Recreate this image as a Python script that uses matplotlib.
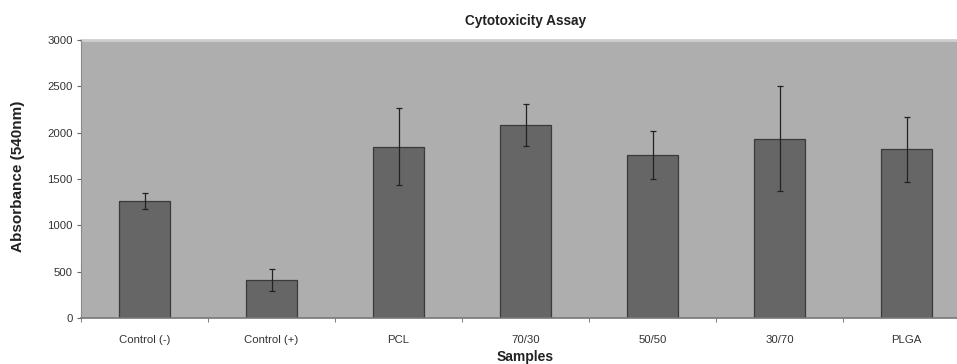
import numpy as np
import matplotlib.pyplot as plt

plt.rcParams['font.family'] = ['Liberation Sans', 'DejaVu Sans']

# Data
samples = ['Control (-)', 'Control (+)', 'PCL', '70/30', '50/50', '30/70', 'PLGA']
absorbance = [1262, 410, 1850, 2085, 1755, 1935, 1820]
errors = [85, 122, 420, 225, 260, 568, 350]
y_ticks = [0, 500, 1000, 1500, 2000, 2500, 3000]

fig = plt.figure(figsize=(9.57, 3.64), dpi=100)
# axes runs a bit past the right edge, as in the original crop
ax = fig.add_axes([81 / 957, (364 - 318) / 364, (970 - 81) / 957, (318 - 40) / 364])
ax.set_facecolor('#aeaeae')

x = np.arange(len(samples))
ax.bar(x, absorbance, width=0.4, color='#666666', edgecolor='#3a3a3a', linewidth=0.9, zorder=2)
ax.errorbar(x, absorbance, yerr=errors, fmt='none', ecolor='#222222',
            elinewidth=0.9, capsize=2.5, capthick=0.9, zorder=3)

ax.set_xlim(-0.5, len(samples) - 0.5)
ax.set_ylim(0, 3000)
ax.set_yticks(y_ticks)
ax.set_yticklabels([str(v) for v in y_ticks], fontsize=8.2, color='#333333')

# category labels without ticks, tick marks between categories
ax.set_xticks(x)
ax.set_xticklabels(samples, fontsize=8.2, color='#333333')
ax.tick_params(axis='x', which='major', length=0, pad=12)
ax.set_xticks(np.arange(-0.5, len(samples), 1.0), minor=True)
ax.tick_params(axis='x', which='minor', length=3, color='#666666', direction='out')
ax.tick_params(axis='y', length=3, color='#666666', pad=3)

for side in ['top', 'right']:
    ax.spines[side].set_visible(False)
ax.spines['left'].set_color('#8a8a8a')
ax.spines['bottom'].set_color('#777777')
ax.spines['bottom'].set_linewidth(1.2)
ax.axhline(3000, color='#cfcfcf', linewidth=2.0, zorder=1, clip_on=False)

ax.set_title('Cytotoxicity Assay', fontsize=9.8, fontweight='bold', color='#222222', pad=11)
ax.set_xlabel('Samples', fontsize=10, fontweight='bold', color='#222222', labelpad=4)
fig.text(18 / 957, 0.5 + 6 / 364, 'Absorbance (540nm)', rotation=90, fontsize=11,
         fontweight='bold', color='#222222', ha='center', va='center')

fig.savefig('out.png', dpi=100, facecolor='white')
